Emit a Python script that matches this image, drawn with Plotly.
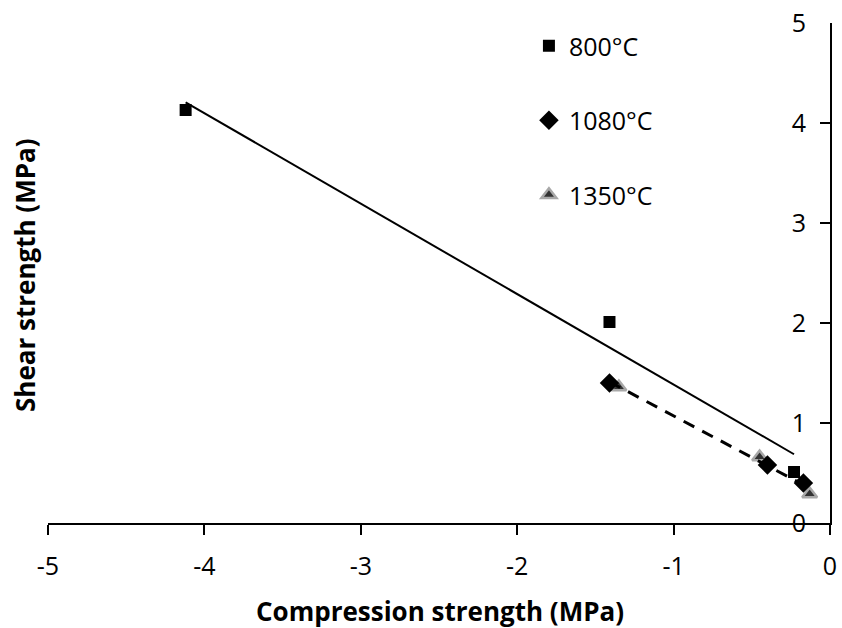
import numpy as np
import plotly.graph_objects as go

# ---- data ----
x800 = [-4.12, -1.41, -0.23]
y800 = [4.13, 2.01, 0.51]
x1080 = [-1.41, -0.40, -0.17]
y1080 = [1.40, 0.58, 0.40]
x1350 = [-1.35, -0.45, -0.13]
y1350 = [1.36, 0.66, 0.29]
xticks = [-5, -4, -3, -2, -1, 0]
xticktext = ["-5", "-4", "-3", "-2", "-1", "0"]
yticks = [0, 1, 2, 3, 4, 5]

FONT = "Open Sans"

fig = go.Figure()

# Linear trendline for 800°C (solid)
c1 = np.polyfit(x800, y800, 1)
xs1 = np.array([min(x800), max(x800)])
fig.add_trace(go.Scatter(x=xs1, y=np.polyval(c1, xs1), mode="lines",
                         line=dict(color="black", width=2), showlegend=False,
                         hoverinfo="skip"))

# Linear trendline for 1080°C + 1350°C (dashed)
xc = x1080 + x1350
yc = y1080 + y1350
c2 = np.polyfit(xc, yc, 1)
xs2 = np.array([min(xc), max(xc)])

fig.add_trace(go.Scatter(x=x1350, y=y1350, mode="markers", name="1350°C",
                         legendrank=3, legendgroup="c",
                         marker=dict(symbol="triangle-up", size=13, color="#333333",
                                     line=dict(color="#a8a8a8", width=2.5))))
fig.add_trace(go.Scatter(x=x1080, y=y1080, mode="markers", name="1080°C",
                         legendrank=2, legendgroup="b",
                         marker=dict(symbol="diamond", size=15, color="black",
                                     line=dict(width=0))))
fig.add_trace(go.Scatter(x=x800, y=y800, mode="markers", name="800°C",
                         legendrank=1, legendgroup="a",
                         marker=dict(symbol="square", size=12, color="black",
                                     line=dict(width=0))))
fig.add_trace(go.Scatter(x=xs2, y=np.polyval(c2, xs2), mode="lines",
                         line=dict(color="black", width=3, dash="12px,9px"),
                         showlegend=False, hoverinfo="skip"))

fig.update_layout(
    width=842, height=628,
    margin=dict(l=48, r=12, t=23, b=105, autoexpand=False),
    paper_bgcolor="white", plot_bgcolor="white",
    font=dict(family=FONT, size=24, color="black"),
    showlegend=True,
    legend=dict(x=0.615, y=1.0, xanchor="left", yanchor="top",
                font=dict(size=25, family=FONT, color="black"), tracegroupgap=39,
                bgcolor="rgba(0,0,0,0)", itemwidth=30),
    xaxis=dict(range=[-5, 0], tickvals=xticks, ticktext=xticktext,
               showgrid=False, zeroline=False, automargin=False,
               showline=True, linecolor="black", linewidth=2,
               ticks="outside", ticklen=10, tickwidth=2, tickcolor="black",
               tickfont=dict(size=25, family=FONT, color="black"),
               ticklabelstandoff=10, ticklabeloverflow="allow"),
    yaxis=dict(range=[0, 5], tickvals=yticks, side="right", showgrid=False,
               zeroline=False, showline=True, linecolor="black", linewidth=2,
               automargin=False,
               ticks="inside", ticklen=10, tickwidth=2, tickcolor="black",
               ticklabelposition="inside", ticklabeloverflow="allow",
               ticklabelstandoff=16,
               tickfont=dict(size=25, family=FONT, color="black")),
    annotations=[
        dict(text="<b>Shear strength (MPa)</b>", xref="paper", yref="paper",
             x=(25 - 48) / 782, y=(523 - 276) / 500, xanchor="center", yanchor="middle",
             textangle=-90, showarrow=False, font=dict(size=26, family=FONT)),
        dict(text="<b>Compression strength (MPa)</b>", xref="paper", yref="paper",
             x=0.501, y=(523 - 611) / 500, xanchor="center", yanchor="middle",
             showarrow=False, font=dict(size=26, family=FONT)),
    ],
)

fig.write_html("out.html", config={"displayModeBar": False},
               post_script="document.body.style.margin='0px';")
